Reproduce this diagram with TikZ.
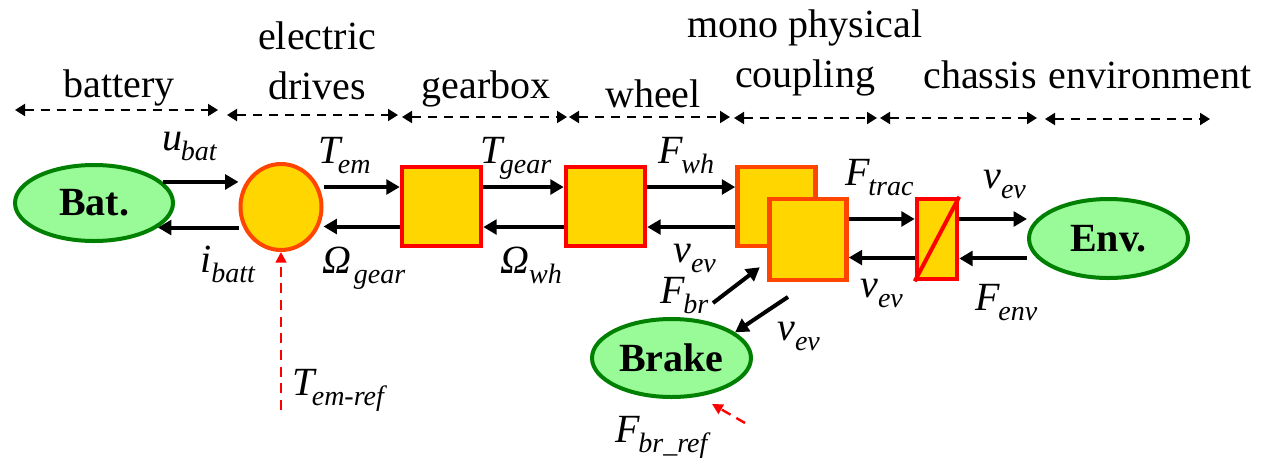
\documentclass[tikz,border=0pt]{standalone}
\usepackage{fontspec}
\setmainfont{Liberation Serif}
\usetikzlibrary{arrows.meta,shapes.geometric,calc}
\definecolor{lgreen}{RGB}{152,251,152}
\definecolor{dgreen}{RGB}{0,128,0}
\definecolor{boxgold}{RGB}{255,214,0}
\definecolor{ored}{RGB}{255,69,0}
\newcommand{\sv}[3][0pt]{{\itshape #2\kern#1\raisebox{-7.5pt}{\fontsize{21}{24}\selectfont #3}}}
\tikzset{
  txt/.style={inner sep=0pt, anchor=base},
  lbl/.style={inner sep=0pt, anchor=base west},
  sqbox/.style={draw=red, fill=boxgold, line width=3.4pt, inner sep=0pt, minimum width=59.25pt, minimum height=59.25pt},
  oval/.style={ellipse, draw=dgreen, fill=lgreen, line width=3pt, inner sep=0pt, font=\bfseries\fontsize{30}{36}\selectfont},
  sig/.style={line width=3pt, -{Triangle[length=10pt,width=11pt]}},
  spanarrow/.style={line width=1.5pt, dash pattern=on 7pt off 5pt, {Triangle[length=7.5pt,width=9pt]}-{Triangle[length=7.5pt,width=9pt]}},
  refsig/.style={red, line width=1.8pt, dash pattern=on 7.5pt off 5pt, -{Triangle[length=8pt,width=8pt]}}
}
\begin{document}
\begin{tikzpicture}[x=0.75pt, y=-0.75pt, font=\fontsize{30}{37.5}\selectfont]
\useasboundingbox (0,0) rectangle (1285,458);
\fill[white] (0,0) rectangle (1285,458);

% top spans
\node[txt] (tbat) at (119,97) {battery};
\node[txt, align=center] (tdrv) at (317,99) {electric\\drives};
\node[txt] (tgear) at (486,98) {gearbox};
\node[txt] (twh) at (653,107) {wheel};
\node[txt, align=center] (tcpl) at (805,87) {mono physical\\coupling};
\node[txt] (tchs) at (980,88) {chassis};
\node[txt] (tenv) at (1150,88) {environment};

\draw[spanarrow] (15,110) -- (218,110);
\draw[spanarrow] (227,115) -- (398,115);
\draw[spanarrow] (402,117) -- (567,117);
\draw[spanarrow] (569,117) -- (730,117);
\draw[spanarrow] (734,118) -- (877,118);
\draw[spanarrow] (880,118) -- (1037,118);
\draw[spanarrow] (1045,119) -- (1210,119);

% blocks
\node[oval, minimum width=118.5pt, minimum height=57pt] (bat) at (94,203) {Bat.};
\node[ellipse, draw=ored, fill=boxgold, line width=3pt, inner sep=0pt, minimum width=60.75pt, minimum height=64.5pt] (em) at (281,207) {};
\node[sqbox] (gear) at (441.5,206.5) {};
\node[sqbox] (wheel) at (605.5,206.5) {};
\node[sqbox, draw=ored, minimum width=58.5pt, minimum height=59.25pt] (cpb) at (776.5,206.5) {};
\node[sqbox, draw=ored, minimum width=57.75pt, minimum height=60.75pt] (cpf) at (808,239.5) {};
\node[sqbox, minimum width=30pt, minimum height=60pt] (chs) at (937,239) {};
\draw[red, line width=3pt] (chs.south west) -- (chs.north east);
\node[oval, minimum width=119.25pt, minimum height=59.25pt] (env) at (1108.5,238.5) {Env.};
\node[oval, minimum width=119.25pt, minimum height=58.5pt] (brake) at (671.5,358) {Brake};

% lanes
\coordinate (a1) at ([yshift=15pt]em.east);
\coordinate (a2) at ([yshift=-15pt]gear.west);
\coordinate (b1) at ([yshift=14.6pt]gear.east);
\coordinate (b2) at ([yshift=-15.4pt]wheel.west);
\coordinate (c1) at ([yshift=14.6pt]wheel.east);
\coordinate (c2) at ([yshift=-15.4pt]cpb.west);
\coordinate (d1) at ([yshift=15.4pt]cpf.east);
\coordinate (d2) at ([yshift=-13.9pt]chs.west);
\coordinate (e1) at ([yshift=15pt]chs.east);
\coordinate (e2) at ([yshift=-14.6pt]chs.east);

\draw[sig] (bat.17) -- (bat.17 -| em.west);
\draw[sig] (bat.-21 -| em.west) -- (bat.-21);
\draw[sig] (a1) -- (a1 -| gear.west);
\draw[sig] (a2) -- (a2 -| em.east);
\draw[sig] (b1) -- (b1 -| wheel.west);
\draw[sig] (b2) -- (b2 -| gear.east);
\draw[sig] (c1) -- (c1 -| cpb.west);
\draw[sig] (c2) -- (c2 -| wheel.east);
\draw[sig] (d1) -- (d1 -| chs.west);
\draw[sig] (d2) -- (d2 -| cpf.east);
\draw[sig] (e1) -- (e1 -| env.west);
\draw[sig] (e2 -| env.west) -- (e2);

\coordinate (fbr0) at (713,303);
\draw[sig] (fbr0) -- ([xshift=-5.6pt,yshift=11.25pt]cpf.south west);
\coordinate (vbr0) at ([xshift=-15pt,yshift=-11pt]cpf.south);
\draw[sig] (vbr0) -- (brake.22);

\coordinate (tref) at (281,410);
\draw[refsig] (tref) -- (em.south);
\coordinate (bref) at (745,423);
\draw[refsig] (bref) -- ([xshift=30.4pt,yshift=-3.75pt]brake.south);

% signal labels
\node[lbl] (lub) at (162,150) {\sv[-1pt]{u}{bat}};
\node[lbl] (lte) at (318,163) {\sv[-2pt]{T}{em}};
\node[lbl] (lib) at (200,272) {\sv{i}{batt}};
\node[lbl] (log) at (322,273) {\sv[2pt]{Ω}{gear}};
\node[lbl] (ltg) at (480,163) {\sv[-2pt]{T}{gear}};
\node[lbl] (low) at (500,273) {\sv{Ω}{wh}};
\node[lbl] (lfw) at (658,163) {\sv[-1pt]{F}{wh}};
\node[lbl] (lv1) at (673,262) {\sv{v}{ev}};
\node[lbl] (lfb) at (660,303) {\sv[-1pt]{F}{br}};
\node[lbl] (lft) at (845,185) {\sv[-1pt]{F}{trac}};
\node[lbl] (lv2) at (860,297) {\sv{v}{ev}};
\node[lbl] (lv3) at (983,188) {\sv{v}{ev}};
\node[lbl] (lfe) at (975,310) {\sv[-1pt]{F}{env}};
\node[lbl] (lv4) at (777,340) {\sv{v}{ev}};
\node[lbl] (ltr) at (292,395) {\sv[-2pt]{T}{em-ref}};
\node[lbl] (lfr) at (615,442) {\sv[-1pt]{F}{br\_ref}};
\end{tikzpicture}
\end{document}
